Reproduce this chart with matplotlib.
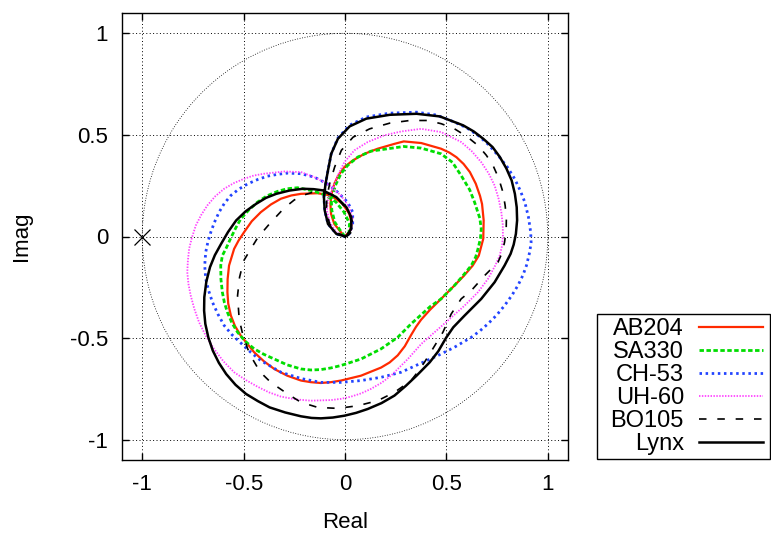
import matplotlib
matplotlib.use("Agg")
import matplotlib.pyplot as plt
from matplotlib.patches import Circle, Rectangle

plt.rcParams['font.family'] = ['Liberation Sans', 'DejaVu Sans']
plt.rcParams['axes.unicode_minus'] = False

# rotor responses in the complex plane (real, imaginary parts)
ab204_re = [0, -0.020, -0.053, -0.069, -0.072, -0.066, -0.053, -0.033, -0.003, 0.038, 0.096, 0.161, 0.244, 0.290, 0.376, 0.474, 0.515, 0.550, 0.585, 0.616, 0.645, 0.666, 0.676, 0.684, 0.682, 0.660, 0.630, 0.585, 0.540, 0.474, 0.420, 0.375, 0.350, 0.326, 0.295, 0.260, 0.220, 0.178, 0.079, -0.020, -0.070, -0.119, -0.168, -0.217, -0.285, -0.349, -0.400, -0.448, -0.514, -0.543, -0.563, -0.576, -0.580, -0.579, -0.572, -0.547, -0.525, -0.498, -0.460, -0.415, -0.365, -0.316, -0.265, -0.217, -0.135, -0.069, -0.012, 0.021, 0.033, 0.021, 0.002, 0]
ab204_im = [0, 0.021, 0.062, 0.112, 0.161, 0.210, 0.259, 0.300, 0.342, 0.374, 0.407, 0.432, 0.456, 0.468, 0.460, 0.432, 0.413, 0.390, 0.357, 0.317, 0.260, 0.200, 0.160, 0.080, -0.011, -0.094, -0.143, -0.195, -0.241, -0.307, -0.360, -0.410, -0.445, -0.485, -0.540, -0.585, -0.620, -0.645, -0.685, -0.709, -0.717, -0.721, -0.717, -0.709, -0.685, -0.652, -0.614, -0.570, -0.488, -0.440, -0.389, -0.330, -0.274, -0.210, -0.143, -0.061, -0.020, 0.021, 0.075, 0.120, 0.158, 0.186, 0.202, 0.210, 0.213, 0.202, 0.161, 0.112, 0.062, 0.021, 0.005, 0]

sa330_re = [0, -0.020, -0.050, -0.065, -0.067, -0.061, -0.044, -0.020, 0.013, 0.063, 0.128, 0.211, 0.290, 0.376, 0.474, 0.530, 0.573, 0.615, 0.639, 0.665, 0.672, 0.668, 0.656, 0.645, 0.623, 0.580, 0.540, 0.474, 0.420, 0.376, 0.326, 0.260, 0.178, 0.079, -0.020, -0.070, -0.119, -0.168, -0.217, -0.285, -0.349, -0.400, -0.448, -0.493, -0.530, -0.558, -0.580, -0.595, -0.605, -0.612, -0.613, -0.605, -0.585, -0.565, -0.540, -0.514, -0.475, -0.432, -0.385, -0.333, -0.285, -0.234, -0.160, -0.100, -0.045, -0.005, 0.022, 0.020, 0]
sa330_im = [0, 0.025, 0.070, 0.128, 0.170, 0.210, 0.259, 0.309, 0.350, 0.391, 0.420, 0.432, 0.443, 0.435, 0.407, 0.365, 0.300, 0.230, 0.169, 0.090, 0.038, -0.010, -0.061, -0.100, -0.143, -0.195, -0.241, -0.307, -0.345, -0.385, -0.430, -0.496, -0.553, -0.603, -0.635, -0.647, -0.655, -0.657, -0.652, -0.632, -0.603, -0.580, -0.553, -0.515, -0.471, -0.425, -0.373, -0.325, -0.274, -0.210, -0.143, -0.094, -0.055, -0.011, 0.040, 0.087, 0.130, 0.169, 0.200, 0.222, 0.235, 0.240, 0.225, 0.205, 0.170, 0.120, 0.065, 0.020, 0]

ch53_re = [0, -0.043, -0.084, -0.100, -0.104, -0.096, -0.084, -0.068, -0.035, 0.023, 0.105, 0.221, 0.353, 0.450, 0.540, 0.600, 0.656, 0.708, 0.755, 0.800, 0.837, 0.865, 0.887, 0.905, 0.916, 0.918, 0.911, 0.895, 0.878, 0.853, 0.823, 0.787, 0.748, 0.705, 0.665, 0.623, 0.540, 0.458, 0.376, 0.277, 0.178, 0.079, -0.020, -0.119, -0.217, -0.316, -0.415, -0.465, -0.514, -0.558, -0.596, -0.627, -0.654, -0.673, -0.687, -0.692, -0.687, -0.677, -0.662, -0.644, -0.621, -0.595, -0.563, -0.524, -0.480, -0.432, -0.382, -0.332, -0.283, -0.217, -0.151, -0.086, -0.036, 0.013, 0.038, 0.038, 0.021, 0]
ch53_im = [0, 0.013, 0.062, 0.128, 0.194, 0.259, 0.325, 0.407, 0.485, 0.548, 0.588, 0.607, 0.612, 0.598, 0.563, 0.535, 0.498, 0.452, 0.399, 0.343, 0.284, 0.225, 0.169, 0.095, 0.021, -0.030, -0.077, -0.143, -0.190, -0.241, -0.290, -0.340, -0.387, -0.430, -0.465, -0.496, -0.545, -0.586, -0.623, -0.668, -0.693, -0.709, -0.718, -0.718, -0.699, -0.668, -0.611, -0.570, -0.524, -0.483, -0.438, -0.382, -0.323, -0.265, -0.209, -0.143, -0.077, -0.030, 0.021, 0.070, 0.120, 0.163, 0.202, 0.233, 0.259, 0.280, 0.297, 0.306, 0.312, 0.309, 0.292, 0.259, 0.218, 0.169, 0.120, 0.062, 0.013, 0]

uh60_re = [0, -0.043, -0.076, -0.089, -0.084, -0.061, -0.036, -0.003, 0.046, 0.112, 0.194, 0.277, 0.376, 0.474, 0.573, 0.625, 0.672, 0.709, 0.738, 0.758, 0.771, 0.778, 0.779, 0.775, 0.763, 0.741, 0.705, 0.656, 0.590, 0.507, 0.442, 0.376, 0.310, 0.227, 0.180, 0.128, 0.080, 0.030, -0.020, -0.069, -0.168, -0.240, -0.316, -0.375, -0.432, -0.490, -0.547, -0.600, -0.646, -0.686, -0.720, -0.743, -0.761, -0.772, -0.778, -0.775, -0.769, -0.755, -0.736, -0.710, -0.679, -0.640, -0.596, -0.548, -0.498, -0.450, -0.399, -0.300, -0.217, -0.151, -0.086, -0.020, 0.021, 0.038, 0.030, 0.010, 0]
uh60_im = [0, 0.021, 0.071, 0.128, 0.186, 0.235, 0.300, 0.366, 0.424, 0.465, 0.498, 0.517, 0.530, 0.514, 0.465, 0.420, 0.366, 0.310, 0.251, 0.185, 0.120, 0.060, 0.005, -0.045, -0.094, -0.143, -0.209, -0.274, -0.340, -0.414, -0.471, -0.529, -0.603, -0.685, -0.720, -0.750, -0.772, -0.788, -0.799, -0.805, -0.808, -0.802, -0.788, -0.767, -0.739, -0.706, -0.668, -0.614, -0.553, -0.490, -0.422, -0.357, -0.291, -0.235, -0.176, -0.120, -0.061, -0.005, 0.054, 0.105, 0.153, 0.198, 0.235, 0.263, 0.284, 0.300, 0.309, 0.320, 0.317, 0.292, 0.259, 0.202, 0.144, 0.087, 0.030, 0.002, 0]

bo105_re = [0, -0.040, -0.076, -0.092, -0.089, -0.076, -0.051, -0.018, 0.040, 0.122, 0.221, 0.320, 0.408, 0.475, 0.540, 0.600, 0.656, 0.697, 0.730, 0.758, 0.779, 0.790, 0.796, 0.795, 0.787, 0.775, 0.755, 0.689, 0.623, 0.573, 0.524, 0.483, 0.433, 0.392, 0.360, 0.326, 0.244, 0.161, 0.063, -0.036, -0.135, -0.217, -0.283, -0.366, -0.400, -0.432, -0.458, -0.480, -0.505, -0.522, -0.530, -0.520, -0.500, -0.470, -0.430, -0.370, -0.300, -0.250, -0.200, -0.152, -0.090, -0.030, 0.015, 0.040, 0.035, 0.015, 0]
bo105_im = [0, 0.020, 0.062, 0.128, 0.194, 0.259, 0.342, 0.424, 0.489, 0.530, 0.558, 0.571, 0.571, 0.555, 0.530, 0.493, 0.448, 0.400, 0.350, 0.287, 0.218, 0.152, 0.087, 0.030, -0.028, -0.080, -0.126, -0.192, -0.266, -0.307, -0.381, -0.471, -0.553, -0.619, -0.665, -0.709, -0.767, -0.808, -0.833, -0.846, -0.841, -0.816, -0.775, -0.718, -0.685, -0.644, -0.600, -0.553, -0.480, -0.406, -0.291, -0.200, -0.120, -0.070, -0.005, 0.065, 0.140, 0.180, 0.205, 0.220, 0.215, 0.180, 0.125, 0.065, 0.025, 0.005, 0]

lynx_re = [0, -0.043, -0.084, -0.100, -0.104, -0.096, -0.084, -0.068, -0.035, 0.023, 0.105, 0.221, 0.353, 0.468, 0.583, 0.635, 0.682, 0.728, 0.764, 0.796, 0.822, 0.838, 0.847, 0.849, 0.843, 0.832, 0.817, 0.787, 0.738, 0.672, 0.590, 0.534, 0.499, 0.460, 0.418, 0.353, 0.300, 0.244, 0.180, 0.112, 0.055, -0.003, -0.060, -0.119, -0.165, -0.217, -0.295, -0.372, -0.430, -0.488, -0.540, -0.586, -0.622, -0.652, -0.674, -0.689, -0.695, -0.694, -0.684, -0.666, -0.642, -0.611, -0.577, -0.537, -0.490, -0.438, -0.390, -0.339, -0.275, -0.208, -0.155, -0.109, -0.043, 0.007, 0.031, 0.031, 0.010, 0]
lynx_im = [0, 0.013, 0.062, 0.128, 0.194, 0.259, 0.325, 0.407, 0.481, 0.542, 0.580, 0.599, 0.604, 0.591, 0.547, 0.517, 0.481, 0.440, 0.391, 0.335, 0.276, 0.210, 0.144, 0.080, 0.013, -0.040, -0.085, -0.143, -0.225, -0.307, -0.389, -0.447, -0.498, -0.565, -0.619, -0.685, -0.735, -0.783, -0.820, -0.849, -0.868, -0.882, -0.891, -0.895, -0.893, -0.885, -0.866, -0.841, -0.810, -0.775, -0.730, -0.677, -0.622, -0.562, -0.497, -0.430, -0.365, -0.299, -0.222, -0.151, -0.092, -0.036, 0.022, 0.079, 0.124, 0.161, 0.190, 0.210, 0.226, 0.235, 0.233, 0.227, 0.194, 0.144, 0.095, 0.038, 0.005, 0]

ticks = [-1, -0.5, 0, 0.5, 1]
tick_labels = ['-1', '-0.5', '0', '0.5', '1']

W, H = 771, 533
fig = plt.figure(figsize=(W/100, H/100), dpi=100)
ax = fig.add_axes([122/W, 73/H, 446/W, 447/H])

ax.add_patch(Circle((0, 0), 1, fill=False, color='black', lw=0.6, ls=(0, (1, 2))))
ax.plot([-1], [0], marker='x', ms=11, mew=0.9, color='black', ls='none')

ax.plot(ab204_re, ab204_im, color='#ff2a00', lw=1.6, label='AB204')
ax.plot(sa330_re, sa330_im, color='#00dd00', lw=2.0, ls=(0, (1.6, 0.9)), label='SA330')
ax.plot(ch53_re, ch53_im, color='#2244ff', lw=2.0, ls=(0, (0.9, 1.3)), label='CH-53')
ax.plot(uh60_re, uh60_im, color='#ff44ff', lw=1.3, ls=(0, (0.8, 0.8)), label='UH-60')
ax.plot(bo105_re, bo105_im, color='black', lw=1.2, ls=(0, (4.5, 6.5)), label='BO105')
ax.plot(lynx_re, lynx_im, color='black', lw=1.8, label='Lynx')

ax.set_xlim(-1.1, 1.1)
ax.set_ylim(-1.1, 1.1)
ax.set_xticks(ticks)
ax.set_xticklabels(tick_labels)
ax.set_yticks(ticks)
ax.set_yticklabels(tick_labels)
ax.grid(True, color='black', lw=0.7, ls=(0, (1, 2.5)))
ax.tick_params(direction='in', top=True, right=True, length=5, width=1,
               labelsize=16, pad=10)
for s in ax.spines.values():
    s.set_linewidth(1.0)

ax.set_xlabel('Real', fontsize=16, labelpad=12)
ax.set_ylabel('Imag', fontsize=16, labelpad=27)

# key box outside the axes, with its own frame
fig.patches.append(Rectangle((597/W, 74/H), 173/W, 145/H, transform=fig.transFigure,
                             fill=False, edgecolor='black', lw=1.0))
leg = ax.legend(loc='lower right', bbox_to_anchor=(763/W, 78/H),
                bbox_transform=fig.transFigure, markerfirst=False,
                fontsize=17, frameon=False,
                handlelength=2.7, handletextpad=0.65, labelspacing=0.04,
                borderpad=0, borderaxespad=0)

fig.savefig('out.png', dpi=100)
